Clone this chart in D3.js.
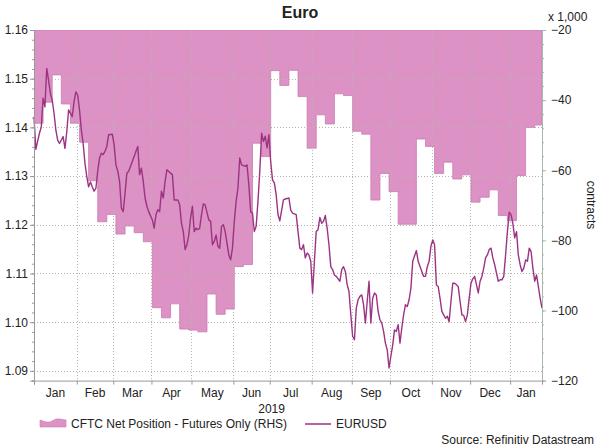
<!DOCTYPE html>
<html>
<head>
<meta charset="utf-8">
<script src="https://cdn.jsdelivr.net/npm/d3@7"></script>
<style>
  body { margin: 0; background: #fff; }
  svg text { font-family: "Liberation Sans", Arial, sans-serif; fill: #222; }
</style>
</head>
<body>
<svg id="chart" width="600" height="448"></svg>
<script>
// Chart data
const leftTicks = [1.09, 1.10, 1.11, 1.12, 1.13, 1.14, 1.15, 1.16];
const rightTicks = [-120, -100, -80, -60, -40, -20];

// CFTC net position, futures only (thousand contracts), weekly
const cftc = [
  ["2018-12-31",-46.6],["2019-01-07",-40.6],["2019-01-14",-32.8],["2019-01-21",-41.1],
  ["2019-01-28",-46.6],["2019-02-04",-52.0],["2019-02-11",-63.0],["2019-02-18",-74.7],
  ["2019-02-25",-72.6],["2019-03-04",-78.2],["2019-03-11",-75.9],["2019-03-18",-77.8],
  ["2019-03-25",-80.4],["2019-04-01",-99.2],["2019-04-08",-102.1],["2019-04-15",-98.1],
  ["2019-04-22",-105.3],["2019-04-29",-105.6],["2019-05-06",-106.1],["2019-05-13",-95.3],
  ["2019-05-20",-101.1],["2019-05-27",-99.6],["2019-06-03",-87.5],["2019-06-10",-86.9],
  ["2019-06-17",-52.3],["2019-06-24",-56.1],["2019-07-01",-31.6],["2019-07-08",-35.8],
  ["2019-07-15",-31.5],["2019-07-22",-39.0],["2019-07-29",-53.7],["2019-08-05",-44.2],
  ["2019-08-12",-46.8],["2019-08-19",-38.2],["2019-08-26",-38.7],["2019-09-02",-48.9],
  ["2019-09-09",-49.7],["2019-09-16",-68.5],["2019-09-23",-60.9],["2019-09-30",-66.1],
  ["2019-10-07",-75.4],["2019-10-14",-75.4],["2019-10-21",-51.1],["2019-10-28",-53.2],
  ["2019-11-04",-60.9],["2019-11-11",-57.7],["2019-11-18",-62.5],["2019-11-25",-61.3],
  ["2019-12-02",-69.1],["2019-12-09",-67.7],["2019-12-16",-65.6],["2019-12-23",-72.9],
  ["2019-12-30",-74.4],["2020-01-06",-61.5],["2020-01-13",-47.8],["2020-01-20",-47.1]
];

// EURUSD daily close
const eurusd = [
  ["2018-12-31",1.1422],["2019-01-01",1.1355],["2019-01-03",1.1388],["2019-01-04",1.1401],
  ["2019-01-07",1.1460],["2019-01-08",1.1442],["2019-01-09",1.1521],["2019-01-10",1.1497],
  ["2019-01-11",1.1470],["2019-01-14",1.1456],["2019-01-15",1.1429],["2019-01-16",1.1395],
  ["2019-01-17",1.1374],["2019-01-18",1.1367],["2019-01-22",1.1381],["2019-01-23",1.1357],
  ["2019-01-24",1.1391],["2019-01-25",1.1436],["2019-01-29",1.1422],["2019-01-30",1.1453],
  ["2019-01-31",1.1473],["2019-02-01",1.1466],["2019-02-04",1.1436],["2019-02-05",1.1395],
  ["2019-02-06",1.1367],["2019-02-07",1.1326],["2019-02-08",1.1299],["2019-02-11",1.1278],
  ["2019-02-12",1.1288],["2019-02-13",1.1278],["2019-02-14",1.1269],["2019-02-15",1.1275],
  ["2019-02-18",1.1310],["2019-02-19",1.1337],["2019-02-20",1.1347],["2019-02-21",1.1344],
  ["2019-02-22",1.1351],["2019-02-25",1.1361],["2019-02-26",1.1385],["2019-02-28",1.1386],
  ["2019-03-01",1.1364],["2019-03-04",1.1323],["2019-03-05",1.1310],["2019-03-06",1.1289],
  ["2019-03-07",1.1234],["2019-03-08",1.1227],["2019-03-11",1.1265],["2019-03-12",1.1306],
  ["2019-03-13",1.1310],["2019-03-15",1.1330],["2019-03-18",1.1340],["2019-03-19",1.1351],
  ["2019-03-20",1.1361],["2019-03-21",1.1303],["2019-03-22",1.1316],["2019-03-25",1.1289],
  ["2019-03-26",1.1255],["2019-03-27",1.1238],["2019-03-28",1.1227],["2019-04-01",1.1210],
  ["2019-04-02",1.1193],["2019-04-03",1.1221],["2019-04-04",1.1231],["2019-04-05",1.1227],
  ["2019-04-08",1.1269],["2019-04-09",1.1255],["2019-04-10",1.1289],["2019-04-11",1.1313],
  ["2019-04-15",1.1306],["2019-04-16",1.1303],["2019-04-17",1.1251],["2019-04-19",1.1251],
  ["2019-04-22",1.1241],["2019-04-23",1.1203],["2019-04-24",1.1186],["2019-04-25",1.1149],
  ["2019-04-26",1.1159],["2019-04-29",1.1179],["2019-04-30",1.1214],["2019-05-01",1.1238],
  ["2019-05-02",1.1186],["2019-05-03",1.1193],["2019-05-06",1.1190],["2019-05-07",1.1193],
  ["2019-05-08",1.1221],["2019-05-09",1.1243],["2019-05-10",1.1241],["2019-05-14",1.1210],
  ["2019-05-15",1.1207],["2019-05-16",1.1159],["2019-05-17",1.1166],["2019-05-20",1.1179],
  ["2019-05-21",1.1156],["2019-05-22",1.1152],["2019-05-23",1.1197],["2019-05-24",1.1200],
  ["2019-05-27",1.1186],["2019-05-28",1.1162],["2019-05-29",1.1138],["2019-05-30",1.1128],
  ["2019-05-31",1.1152],["2019-06-03",1.1207],["2019-06-04",1.1248],["2019-06-05",1.1275],
  ["2019-06-06",1.1337],["2019-06-07",1.1323],["2019-06-11",1.1320],["2019-06-12",1.1323],
  ["2019-06-13",1.1282],["2019-06-14",1.1227],["2019-06-17",1.1224],["2019-06-18",1.1186],
  ["2019-06-19",1.1197],["2019-06-20",1.1248],["2019-06-21",1.1310],["2019-06-24",1.1388],
  ["2019-06-25",1.1371],["2019-06-26",1.1382],["2019-06-27",1.1358],["2019-06-28",1.1385],
  ["2019-07-01",1.1330],["2019-07-02",1.1292],["2019-07-03",1.1286],["2019-07-04",1.1262],
  ["2019-07-05",1.1221],["2019-07-08",1.1208],["2019-07-10",1.1251],["2019-07-11",1.1253],
  ["2019-07-15",1.1255],["2019-07-16",1.1230],["2019-07-17",1.1224],["2019-07-19",1.1221],
  ["2019-07-22",1.1186],["2019-07-23",1.1152],["2019-07-24",1.1149],["2019-07-25",1.1159],
  ["2019-07-26",1.1132],["2019-07-29",1.1142],["2019-07-30",1.1138],["2019-07-31",1.1125],
  ["2019-08-01",1.1060],["2019-08-02",1.1125],["2019-08-05",1.1186],["2019-08-06",1.1190],
  ["2019-08-07",1.1215],["2019-08-08",1.1203],["2019-08-09",1.1207],["2019-08-12",1.1219],
  ["2019-08-13",1.1193],["2019-08-14",1.1159],["2019-08-15",1.1114],["2019-08-16",1.1108],
  ["2019-08-19",1.1097],["2019-08-20",1.1094],["2019-08-22",1.1084],["2019-08-23",1.1108],
  ["2019-08-26",1.1114],["2019-08-27",1.1104],["2019-08-28",1.1077],["2019-08-29",1.1063],
  ["2019-08-30",1.1015],["2019-09-02",1.0971],["2019-09-03",1.0964],["2019-09-04",1.1029],
  ["2019-09-05",1.1046],["2019-09-06",1.1053],["2019-09-09",1.1056],["2019-09-10",1.1036],
  ["2019-09-11",1.0998],["2019-09-12",1.1043],["2019-09-13",1.1084],["2019-09-16",1.0998],
  ["2019-09-17",1.1049],["2019-09-18",1.1060],["2019-09-19",1.1056],["2019-09-20",1.1022],
  ["2019-09-23",1.1005],["2019-09-24",1.0998],["2019-09-25",1.0981],["2019-09-26",1.0957],
  ["2019-09-27",1.0943],["2019-09-30",1.0906],["2019-10-01",1.0930],["2019-10-02",1.0953],
  ["2019-10-03",1.0984],["2019-10-04",1.0981],["2019-10-07",1.0995],["2019-10-08",1.0957],
  ["2019-10-09",1.0988],["2019-10-10",1.1015],["2019-10-11",1.1036],["2019-10-14",1.1032],
  ["2019-10-15",1.1046],["2019-10-16",1.1070],["2019-10-17",1.1125],["2019-10-21",1.1147],
  ["2019-10-22",1.1125],["2019-10-24",1.1104],["2019-10-25",1.1094],["2019-10-28",1.1094],
  ["2019-10-29",1.1114],["2019-10-30",1.1125],["2019-10-31",1.1156],["2019-11-01",1.1169],
  ["2019-11-04",1.1159],["2019-11-05",1.1077],["2019-11-06",1.1073],["2019-11-07",1.1049],
  ["2019-11-08",1.1022],["2019-11-11",1.1015],["2019-11-12",1.1008],["2019-11-13",1.1012],
  ["2019-11-14",1.1001],["2019-11-15",1.1043],["2019-11-18",1.1080],["2019-11-19",1.1080],
  ["2019-11-20",1.1077],["2019-11-21",1.1073],["2019-11-22",1.1043],["2019-11-25",1.1015],
  ["2019-11-26",1.1014],["2019-11-27",1.1001],["2019-11-28",1.1015],["2019-11-29",1.1049],
  ["2019-12-02",1.1080],["2019-12-03",1.1089],["2019-12-04",1.1094],["2019-12-05",1.1077],
  ["2019-12-06",1.1060],["2019-12-09",1.1084],["2019-12-10",1.1094],["2019-12-11",1.1111],
  ["2019-12-12",1.1132],["2019-12-13",1.1138],["2019-12-16",1.1149],["2019-12-17",1.1152],
  ["2019-12-18",1.1132],["2019-12-19",1.1118],["2019-12-20",1.1101],["2019-12-23",1.1084],
  ["2019-12-24",1.1087],["2019-12-25",1.1087],["2019-12-26",1.1094],["2019-12-27",1.1138],
  ["2019-12-30",1.1186],["2019-12-31",1.1226],["2020-01-01",1.1221],["2020-01-02",1.1203],
  ["2020-01-03",1.1173],["2020-01-06",1.1186],["2020-01-07",1.1138],["2020-01-08",1.1118],
  ["2020-01-09",1.1104],["2020-01-10",1.1111],["2020-01-13",1.1128],["2020-01-14",1.1125],
  ["2020-01-15",1.1152],["2020-01-16",1.1145],["2020-01-17",1.1111],["2020-01-20",1.1084],
  ["2020-01-21",1.1097],["2020-01-22",1.1073],["2020-01-23",1.1049],["2020-01-24",1.1029]
];

// Layout
const plotLeft = 34, plotRight = 542, plotTop = 30, plotBottom = 380.6;
const svg = d3.select("#chart");
const fmt = d3.timeFormat("%Y-%m-%d");
const lineColor = "#9c3383", areaColor = "#dc92c4";

// Business-day axis (weekends removed)
const bdays = d3.timeDay.range(new Date(2018, 11, 31), new Date(2020, 0, 25))
  .filter(d => d.getDay() % 6 !== 0);
const dayIndex = new Map(bdays.map((d, i) => [fmt(d), i]));
const x = d3.scaleLinear().domain([0, bdays.length - 1]).range([plotLeft, plotRight]);
const xDate = s => x(dayIndex.get(s));

const yL = d3.scaleLinear().domain([1.088, 1.16]).range([plotBottom, plotTop]);
const yR = d3.scaleLinear().domain([-120, -20]).range([plotBottom, plotTop]);

// Month boundaries: half a day before the first business day of each month
const months = d3.timeMonth.range(new Date(2019, 1, 1), new Date(2020, 1, 1));
const monthTicks = months.map(m => d3.bisector(d => d).left(bdays, m) - 0.5);
const bounds = [0, ...monthTicks, bdays.length - 1];
const monthLabels = [new Date(2019, 0, 1), ...months].map((m, i) => ({
  name: d3.timeFormat("%b")(m),
  pos: (x(bounds[i]) + x(bounds[i + 1])) / 2
}));

svg.append("defs").append("clipPath").attr("id", "plot")
  .append("rect").attr("x", plotLeft).attr("y", plotTop)
  .attr("width", plotRight - plotLeft).attr("height", plotBottom - plotTop);

// CFTC area, hanging from the top of the plot
const cftcPts = cftc.map(([d, v]) => ({ i: dayIndex.get(d), v }));
cftcPts.push({ i: bdays.length - 1, v: cftc[cftc.length - 1][1] });
const area = d3.area()
  .curve(d3.curveStepAfter)
  .x(d => x(d.i))
  .y0(plotTop)
  .y1(d => yR(d.v));
svg.append("path")
  .datum(cftcPts)
  .attr("clip-path", "url(#plot)")
  .attr("fill", areaColor)
  .attr("stroke", "#c97bb2")
  .attr("stroke-width", 0.8)
  .attr("d", area);

// Grid
const grid = svg.append("g").attr("stroke", "#b9b3a8").attr("stroke-dasharray", "1,2").attr("stroke-width", 1);
grid.selectAll(".h").data(leftTicks.slice(0, -1)).enter().append("line")
  .attr("x1", plotLeft).attr("x2", plotRight)
  .attr("y1", d => Math.round(yL(d)) + 0.5).attr("y2", d => Math.round(yL(d)) + 0.5);
grid.selectAll(".v").data(monthTicks).enter().append("line")
  .attr("y1", plotTop).attr("y2", plotBottom)
  .attr("x1", d => Math.round(x(d)) + 0.5).attr("x2", d => Math.round(x(d)) + 0.5);

// EURUSD line
const line = d3.line().x(d => xDate(d[0])).y(d => yL(d[1]));
svg.append("path")
  .datum(eurusd)
  .attr("fill", "none")
  .attr("stroke", lineColor)
  .attr("stroke-width", 1.4)
  .attr("stroke-linejoin", "round")
  .attr("d", line);

// Axes
function styleAxis(g, color) {
  g.select(".domain").attr("stroke", color);
  g.selectAll(".tick line").attr("stroke", color);
  g.selectAll("text").attr("font-size", 12).attr("fill", "#222");
}

const minorL = d3.range(1.088, 1.1601, 0.002).filter(v => v >= 1.0879);
svg.append("g").attr("transform", `translate(${plotLeft},0)`)
  .call(d3.axisLeft(yL).tickValues(minorL).tickSize(2).tickFormat(""))
  .call(g => styleAxis(g, "#999"));
svg.append("g").attr("transform", `translate(${plotLeft},0)`)
  .call(d3.axisLeft(yL).tickValues(leftTicks).tickSize(4).tickPadding(2).tickFormat(d3.format(".2f")))
  .call(g => styleAxis(g, "#999"));

const minorR = d3.range(-120, -19, 4);
svg.append("g").attr("transform", `translate(${plotRight},0)`)
  .call(d3.axisRight(yR).tickValues(minorR).tickSize(2).tickFormat(""))
  .call(g => styleAxis(g, "#a9b8a9"));
svg.append("g").attr("transform", `translate(${plotRight},0)`)
  .call(d3.axisRight(yR).tickValues(rightTicks).tickSize(4).tickPadding(5))
  .call(g => styleAxis(g, "#a9b8a9"));

svg.append("g").attr("transform", `translate(0,${plotBottom})`)
  .call(d3.axisBottom(x).tickValues([0, ...monthTicks]).tickSize(4).tickFormat(""))
  .call(g => styleAxis(g, "#999"));

svg.selectAll(".month").data(monthLabels).enter().append("text")
  .attr("x", d => d.pos).attr("y", 397)
  .attr("text-anchor", "middle").attr("font-size", 12)
  .text(d => d.name);

svg.append("text")
  .attr("x", (x(-0.5) + x(monthTicks[monthTicks.length - 1])) / 2).attr("y", 413)
  .attr("text-anchor", "middle").attr("font-size", 12).text("2019");

// Titles
svg.append("text").attr("x", 300).attr("y", 18).attr("text-anchor", "middle")
  .attr("font-size", 16).attr("font-weight", "bold").text("Euro");
svg.append("text").attr("x", 548).attr("y", 21).attr("font-size", 12).text("x 1,000");
svg.append("text").attr("transform", "translate(587,205) rotate(90)")
  .attr("text-anchor", "middle").attr("font-size", 12).text("contracts");

// Legend
svg.append("path")
  .attr("d", "M40,420 L46,422 L50,422 L56,419 L60,419 L66,420 L66,427 L40,427 Z")
  .attr("fill", areaColor).attr("stroke", "#c97bb2").attr("stroke-width", 0.6);
svg.append("text").attr("x", 71).attr("y", 428).attr("font-size", 12)
  .text("CFTC Net Position - Futures Only (RHS)");
svg.append("line").attr("x1", 305).attr("x2", 331).attr("y1", 424).attr("y2", 424)
  .attr("stroke", lineColor).attr("stroke-width", 1.5);
svg.append("text").attr("x", 336).attr("y", 428).attr("font-size", 12).text("EURUSD");

svg.append("text").attr("x", 594).attr("y", 444).attr("text-anchor", "end")
  .attr("font-size", 12).text("Source: Refinitiv Datastream");
</script>
</body>
</html>
